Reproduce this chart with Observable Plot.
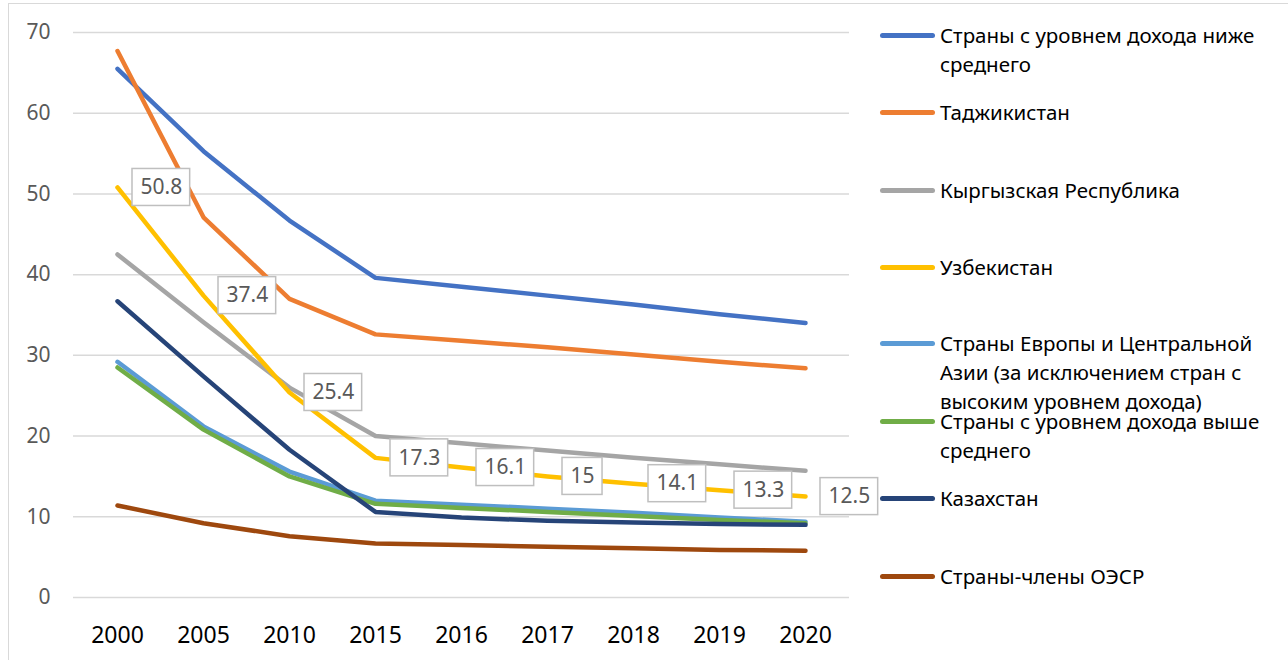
<!DOCTYPE html>
<html>
<head>
<meta charset="utf-8">
<script src="https://cdn.jsdelivr.net/npm/d3@7"></script>
<script src="https://cdn.jsdelivr.net/npm/@observablehq/plot@0.6"></script>
<style>
  html, body { margin: 0; padding: 0; background: #fff; }
  #wrap { position: relative; width: 1288px; height: 660px; overflow: hidden; font-family: "Noto Sans", sans-serif; }
  #frame { position: absolute; left: 8px; top: 3px; width: 1300px; height: 700px; border-left: 1.5px solid #d9d9d9; border-top: 1.5px solid #d9d9d9; box-sizing: border-box; }
  #chart { position: absolute; left: 0; top: 0; }
  .leg { position: absolute; left: 880px; font-size: 20.5px; line-height: 29px; color: #000; white-space: nowrap; }
  .leg .sw { position: absolute; left: 0; top: 12.5px; width: 55px; height: 4.5px; border-radius: 2.5px; }
  .leg .tx { position: absolute; left: 60px; top: 0; }
</style>
</head>
<body>
<div id="wrap">
  <div id="frame"></div>
  <div id="chart"></div>
  <div id="legend"></div>
</div>
<script>
// ---- data ----
const years = ["2000", "2005", "2010", "2015", "2016", "2017", "2018", "2019", "2020"];
const seriesNames = [
  "Страны с уровнем дохода ниже среднего",
  "Таджикистан",
  "Кыргызская Республика",
  "Узбекистан",
  "Страны Европы и Центральной Азии (за исключением стран с высоким уровнем дохода)",
  "Страны с уровнем дохода выше среднего",
  "Казахстан",
  "Страны-члены ОЭСР"
];
const legendLines = [
  ["Страны с уровнем дохода ниже", "среднего"],
  ["Таджикистан"],
  ["Кыргызская Республика"],
  ["Узбекистан"],
  ["Страны Европы и Центральной", "Азии (за исключением стран с", "высоким уровнем дохода)"],
  ["Страны с уровнем дохода выше", "среднего"],
  ["Казахстан"],
  ["Страны-члены ОЭСР"]
];
const colors = ["#4472C4", "#ED7D31", "#A5A5A5", "#FFC000", "#5B9BD5", "#70AD47", "#264478", "#9E480E"];

const lowerMiddle = [65.5, 55.3, 46.7, 39.6, 38.5, 37.4, 36.3, 35.1, 34.0];
const tajikistan  = [67.7, 47.1, 37.0, 32.6, 31.8, 31.0, 30.1, 29.2, 28.4];
const kyrgyz      = [42.5, 34.1, 26.0, 20.0, 19.1, 18.2, 17.3, 16.5, 15.7];
const uzbekistan  = [50.8, 37.4, 25.4, 17.3, 16.1, 15, 14.1, 13.3, 12.5];
const europeCA    = [29.2, 21.2, 15.6, 12.0, 11.5, 11.0, 10.5, 9.9, 9.4];
const upperMiddle = [28.5, 20.8, 15.0, 11.6, 11.1, 10.6, 10.1, 9.6, 9.2];
const kazakhstan  = [36.7, 27.4, 18.3, 10.6, 9.9, 9.5, 9.3, 9.1, 9.0];
const oecd        = [11.4, 9.2, 7.6, 6.7, 6.5, 6.3, 6.1, 5.9, 5.8];
const yTicks = [0, 10, 20, 30, 40, 50, 60, 70];

const allSeries = [lowerMiddle, tajikistan, kyrgyz, uzbekistan, europeCA, upperMiddle, kazakhstan, oecd];
const rows = [];
allSeries.forEach((vals, s) => vals.forEach((v, i) => rows.push({series: seriesNames[s], year: years[i], value: v})));
const uzbRows = uzbekistan.map((v, i) => ({year: years[i], value: v, label: String(v)}));

// ---- chart ----
const plot = Plot.plot({
  width: 880,
  height: 660,
  marginLeft: 73,
  marginRight: 31,
  marginTop: 32,
  marginBottom: 63,
  style: {fontFamily: "Noto Sans, sans-serif", background: "transparent", overflow: "visible"},
  x: {type: "point", domain: years, padding: 0.5, label: null},
  y: {domain: [0, 70], label: null},
  color: {domain: seriesNames, range: colors},
  marks: [
    Plot.gridY(yTicks, {stroke: "#d9d9d9", strokeOpacity: 1, strokeWidth: 1.5}),
    Plot.axisY(yTicks, {tickSize: 0, tickPadding: 23, fontSize: 21, color: "#595959", label: null}),
    Plot.axisX({tickSize: 0, tickPadding: 29, fontSize: 23, color: "#000", label: null}),
    Plot.line(rows, {x: "year", y: "value", z: "series", stroke: "series", strokeWidth: 4.5, strokeLinecap: "round", strokeLinejoin: "round"}),
    Plot.text(uzbRows, {x: "year", y: "value", text: "label", dx: 23, textAnchor: "start", fontSize: 21, fill: "#595959"})
  ]
});
document.getElementById("chart").appendChild(plot);

// label boxes behind the data labels (positions from the Plot scales)
const xs = plot.scale("x"), ys = plot.scale("y");
const svg = d3.select(plot);
const labelTexts = svg.selectAll("text").nodes().filter(t => uzbRows.some(d => d.label === t.textContent) && t.closest("g") && t.closest("g").getAttribute("aria-label") === "text");
const labelGroup = labelTexts.length ? labelTexts[0].parentNode : null;
const boxG = d3.create("svg:g");
if (labelGroup) labelGroup.parentNode.insertBefore(boxG.node(), labelGroup);
else plot.appendChild(boxG.node());
uzbRows.forEach((d, i) => {
  const px = xs.apply(d.year), py = ys.apply(d.value);
  const t = labelTexts.find(n => n.textContent === d.label);
  const w = t ? t.getBBox().width + 16 : 50;
  boxG.append("rect")
    .attr("x", px + 15).attr("y", py - 18.5)
    .attr("width", w).attr("height", 37)
    .attr("fill", "#fff").attr("stroke", "#bfbfbf").attr("stroke-width", 1.5);
});

// ---- legend ----
const legendY = [35, 112, 190, 267, 343, 421, 498, 576];
const legend = document.getElementById("legend");
seriesNames.forEach((name, i) => {
  const item = document.createElement("div");
  item.className = "leg";
  item.style.top = (legendY[i] - 14.5) + "px";
  const sw = document.createElement("div");
  sw.className = "sw";
  sw.style.background = colors[i];
  const tx = document.createElement("div");
  tx.className = "tx";
  tx.innerHTML = legendLines[i].join("<br>");
  item.appendChild(sw);
  item.appendChild(tx);
  legend.appendChild(item);
});
</script>
</body>
</html>
